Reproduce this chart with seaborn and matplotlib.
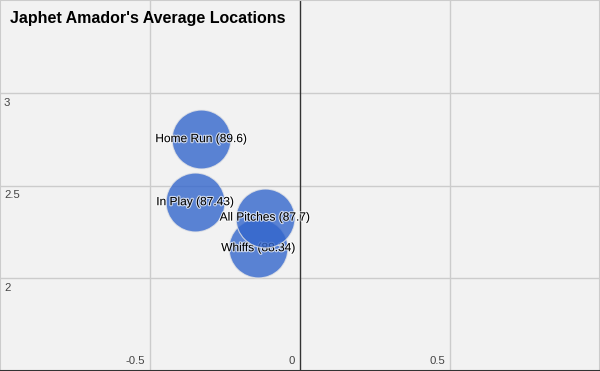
import matplotlib
matplotlib.use('Agg')
import matplotlib.pyplot as plt
import matplotlib.patheffects as pe
import seaborn as sns
import pandas as pd

# valores (ordem = ordem de desenho)
pitch_types = ['Home Run', 'In Play', 'Whiffs', 'All Pitches']
avg_velo = [89.6, 87.43, 88.34, 87.7]
plate_x = [-0.33, -0.35, -0.14, -0.118]
plate_z = [2.75, 2.41, 2.162, 2.327]

x_ticks = [-0.5, 0, 0.5]
x_tick_labels = ['-0.5', '0', '0.5']
y_ticks = [2, 2.5, 3]
y_tick_labels = ['2', '2.5', '3']

df = pd.DataFrame({'type': pitch_types, 'velo': avg_velo,
                   'x': plate_x, 'z': plate_z})

sns.set_style('white')
plt.rcParams['font.family'] = ['Liberation Sans', 'DejaVu Sans']

bg = '#f2f2f2'
fig = plt.figure(figsize=(6, 3.71), dpi=100, facecolor=bg)
ax = fig.add_axes([0, 0, 1, 1])
ax.set_facecolor(bg)
ax.set_xlim(-1, 1)
ax.set_ylim(1.5, 3.5)

# grade
for xv in [-0.5, 0.5]:
    ax.axvline(xv, color='#cccccc', lw=1, zorder=0)
for yv in y_ticks:
    ax.axhline(yv, color='#cccccc', lw=1, zorder=0)
ax.axvline(0, color='#333333', lw=1, zorder=1)

ax.set_xticks([])
ax.set_yticks([])
for side in ['left', 'top', 'right']:
    ax.spines[side].set_color('#cccccc')
    ax.spines[side].set_linewidth(1.5)
ax.spines['bottom'].set_color('#333333')
ax.spines['bottom'].set_linewidth(1.5)

# bolhas, uma por vez para controlar a sobreposição
for i, row in df.iterrows():
    sns.scatterplot(x=[row['x']], y=[row['z']], ax=ax, s=1800,
                    color='#3366cc', alpha=0.8, edgecolor='#e6e6e6',
                    linewidth=0.8, zorder=2 + 2 * i, legend=False)
    ax.text(row['x'], row['z'], f"{row['type']} ({row['velo']:g})",
            ha='center', va='center', fontsize=8.6, color='black',
            zorder=3 + 2 * i,
            path_effects=[pe.withStroke(linewidth=1.6, foreground='white',
                                        alpha=0.7)])

# rótulos dos eixos dentro da área
for yv, lab in zip(y_ticks, y_tick_labels):
    ax.annotate(lab, xy=(0, yv), xycoords=('axes fraction', 'data'),
                xytext=(4, -5), textcoords='offset pixels',
                ha='left', va='top', fontsize=8.2, color='#444444')
for xv, lab in zip(x_ticks, x_tick_labels):
    ax.annotate(lab, xy=(xv, 0), xycoords=('data', 'axes fraction'),
                xytext=(-5, 10), textcoords='offset pixels',
                ha='right', va='center', fontsize=8.2, color='#444444')

ax.annotate("Japhet Amador's Average Locations", xy=(0, 1),
            xycoords='axes fraction', xytext=(10, -18),
            textcoords='offset pixels', ha='left', va='center',
            fontsize=11.5, fontweight='bold', color='black')

fig.savefig('out.png', dpi=100, facecolor=bg)
